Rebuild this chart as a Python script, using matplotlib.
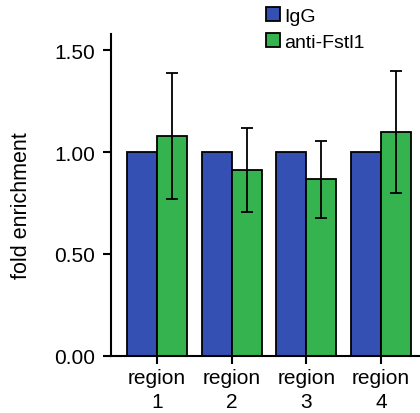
import numpy as np
import matplotlib.pyplot as plt

plt.rcParams['font.family'] = ['Liberation Sans', 'DejaVu Sans']

regions = ['region\n1', 'region\n2', 'region\n3', 'region\n4']
igg = [1.00, 1.00, 1.00, 1.00]
fstl1 = [1.078, 0.913, 0.866, 1.097]
fstl1_err = [0.31, 0.205, 0.19, 0.30]

blue = '#3550b3'
green = '#34b34e'

fig = plt.figure(figsize=(4.2, 4.14), dpi=100)
ax = fig.add_axes([0.264, 0.138, 0.736, 0.778])

x = np.arange(len(regions))
w = 0.4
ax.bar(x - w/2, igg, w, color=blue, edgecolor='black', linewidth=1.3, label='IgG')
ax.bar(x + w/2, fstl1, w, color=green, edgecolor='black', linewidth=1.3, label='anti-Fstl1')
ax.errorbar(x + w/2, fstl1, yerr=fstl1_err, fmt='none', ecolor='black',
            elinewidth=1.3, capsize=4, capthick=1.3)

ax.set_xlim(-0.615, 3.52)
ax.set_ylim(0, 1.58)
ax.set_yticks([0, 0.5, 1.0, 1.5])
ax.set_yticklabels(['0.00', '0.50', '1.00', '1.50'])
ax.set_xticks(x)
ax.set_xticklabels(regions, linespacing=1.35)
ax.tick_params(labelsize=15, width=1.5, length=6, direction='out')
ax.tick_params(axis='y', pad=5.5)
ax.tick_params(axis='x', pad=2.5)
ax.set_ylabel('fold enrichment', fontsize=15.5)
ax.yaxis.set_label_coords(-0.255, 0.47)

for s in ['top', 'right']:
    ax.spines[s].set_visible(False)
for s in ['left', 'bottom']:
    ax.spines[s].set_linewidth(1.5)

ax.legend(loc='upper left', bbox_to_anchor=(0.634, 0.98), bbox_transform=fig.transFigure,
          frameon=False, fontsize=14, borderpad=0,
          handlelength=0.72, handleheight=0.72, handletextpad=0.2, labelspacing=0.4,
          borderaxespad=0)

fig.savefig('out.png', dpi=100)
